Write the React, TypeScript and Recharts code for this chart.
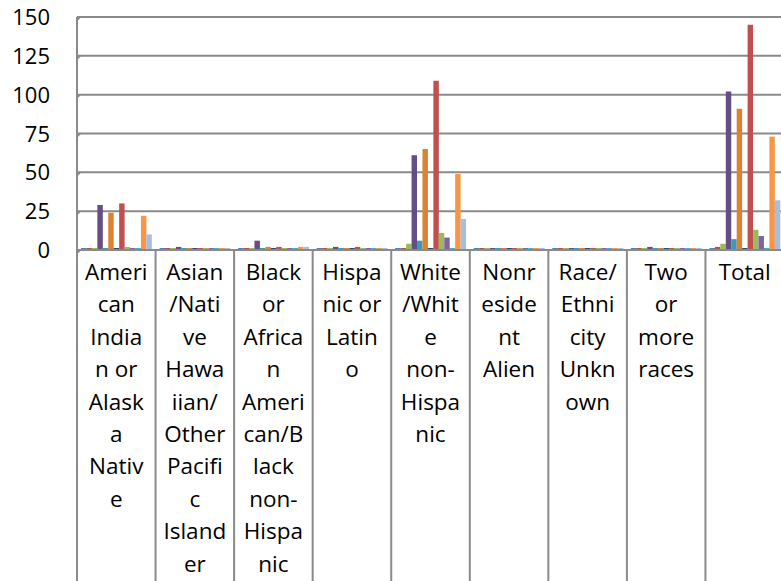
import React from 'react';
import { BarChart, Bar, XAxis, YAxis, CartesianGrid } from 'recharts';

const categories = [
  'American Indian or Alaska Native',
  'Asian/Native Hawaiian/Other Pacific Islander',
  'Black or African American/Black non-Hispanic',
  'Hispanic or Latino',
  'White/White non-Hispanic',
  'Nonresident Alien',
  'Race/Ethnicity Unknown',
  'Two or more races',
  'Total',
];

// wrapped the way the original column labels break
const tickLines = [
  ['Ameri', 'can', 'India', 'n or', 'Alask', 'a', 'Nativ', 'e'],
  ['Asian', '/Nati', 've', 'Hawa', 'iian/', 'Other', 'Pacifi', 'c', 'Island', 'er'],
  ['Black', 'or', 'Africa', 'n', 'Ameri', 'can/B', 'lack', 'non-', 'Hispa', 'nic'],
  ['Hispa', 'nic or', 'Latin', 'o'],
  ['White', '/Whit', 'e', 'non-', 'Hispa', 'nic'],
  ['Nonr', 'eside', 'nt', 'Alien'],
  ['Race/', 'Ethni', 'city', 'Unkn', 'own'],
  ['Two', 'or', 'more', 'races'],
  ['Total'],
];

const yTicks = [0, 25, 50, 75, 100, 125, 150];

const s1 = [0, 0, 0, 0, 0, 0, 0, 0, 0];
const s2 = [0, 1, 0, 0, 1, 0, 0, 0, 2];
const s3 = [0, 0, 0, 0, 4, 0, 0, 0, 4];
const s4 = [29, 2, 6, 2, 61, 0, 0, 2, 102];
const s5 = [1, 0, 0, 0, 6, 0, 0, 0, 7];
const s6 = [24, 0, 2, 0, 65, 0, 0, 0, 91];
const s7 = [0, 0, 0, 0, 0, 0, 0, 0, 0];
const s8 = [30, 1, 2, 2, 109, 0, 0, 1, 145];
const s9 = [2, 0, 0, 0, 11, 0, 0, 0, 13];
const s10 = [0, 0, 1, 0, 8, 0, 0, 0, 9];
const s11 = [0, 0, 0, 0, 1, 0, 0, 0, 1];
const s12 = [22, 0, 2, 0, 49, 0, 0, 0, 73];
const s13 = [10, 0, 2, 0, 20, 0, 0, 0, 32];

const seriesValues = [s1, s2, s3, s4, s5, s6, s7, s8, s9, s10, s11, s12, s13];
const seriesColors = [
  '#4F81BD', '#BE4B48', '#9BBB59', '#654D86', '#3A9BB6', '#DB8233', '#2C4D75',
  '#C0504D', '#9BBB59', '#8064A2', '#4BACC6', '#F79646', '#A7BEDE',
];

const data = categories.map((name, i) => {
  const row: any = { name, idx: i };
  seriesValues.forEach((vals, k) => {
    row['s' + (k + 1)] = vals[i];
  });
  return row;
});

const W = 784;
const H = 581;
const TOP = 17;
const AXIS_H = 331;
const LEFT = 77;
const BAND = (W - LEFT) / categories.length;
const BOTTOM = H - AXIS_H;
const FONT = '"Open Sans", sans-serif';
const GRID = '#8a8a8a';

function XTick(props: any) {
  const { x, index } = props;
  const lines = tickLines[index] || [];
  const left = x - BAND / 2;
  return (
    <g>
      <line x1={left} y1={BOTTOM} x2={left} y2={H} stroke={GRID} strokeWidth={2} />
      <text textAnchor="middle" fontFamily={FONT} fontSize={22.5} fill="#000">
        {lines.map((l, i) => (
          <tspan key={i} x={x} y={BOTTOM + 30 + i * 32.4}>
            {l}
          </tspan>
        ))}
      </text>
    </g>
  );
}

function YTick(props: any) {
  const { y, payload } = props;
  return (
    <g>
      <path d={`M${LEFT} ${y + 3} L${LEFT + 3} ${y}`} stroke={GRID} strokeWidth={2} fill="none" />
      <text x={50} y={y + 8} textAnchor="end" fontFamily={FONT} fontSize={22} fill="#000">
        {payload.value}
      </text>
    </g>
  );
}

export default function App() {
  return (
    <div
      style={{
        position: 'fixed',
        left: 0,
        top: 0,
        width: 781,
        height: 581,
        overflow: 'hidden',
        background: '#fff',
      }}
    >
      <BarChart
        width={W}
        height={H}
        data={data}
        margin={{ top: TOP, right: 0, left: 0, bottom: 0 }}
        barSize={5.45}
        barGap={0}
      >
        <CartesianGrid vertical={false} stroke={GRID} strokeWidth={2} />
        <XAxis
          dataKey="name"
          height={AXIS_H}
          interval={0}
          tickLine={false}
          axisLine={{ stroke: GRID, strokeWidth: 2 }}
          tick={<XTick />}
        />
        <YAxis
          width={LEFT}
          domain={[0, 150]}
          ticks={yTicks}
          tickLine={false}
          axisLine={{ stroke: GRID, strokeWidth: 2 }}
          tick={<YTick />}
        />
        {seriesColors.map((c, k) => (
          <Bar
            key={k}
            dataKey={'s' + (k + 1)}
            fill={c}
            minPointSize={2}
            isAnimationActive={false}
          />
        ))}
      </BarChart>
    </div>
  );
}
